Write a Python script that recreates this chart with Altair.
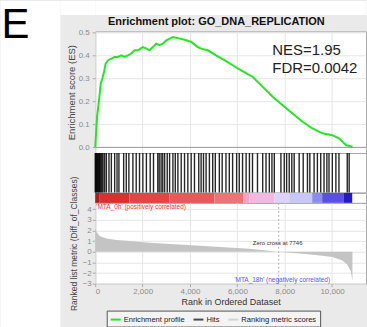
import altair as alt
import pandas as pd

# Running enrichment score along the ranked list
es_rank = [0, 77, 160, 230, 300, 370, 440, 540, 680, 820, 960, 1100, 1240, 1380,
           1520, 1660, 1800, 2010, 2160, 2290, 2430, 2570, 2710, 2850, 3000, 3140,
           3280, 3490, 3770, 4050, 4330, 4470, 4750, 5100, 5450, 5800, 6160, 6650,
           7070, 7490, 7910, 8330, 8750, 9170, 9590, 10010, 10290, 10580, 10860]
es_score = [0.0, 0.133, 0.205, 0.277, 0.299, 0.328, 0.364, 0.379, 0.386, 0.393,
            0.393, 0.400, 0.393, 0.400, 0.408, 0.422, 0.422, 0.436, 0.429, 0.422,
            0.436, 0.451, 0.444, 0.451, 0.465, 0.473, 0.480, 0.475, 0.468, 0.458,
            0.436, 0.429, 0.422, 0.400, 0.379, 0.357, 0.335, 0.306, 0.263, 0.220,
            0.183, 0.147, 0.111, 0.082, 0.061, 0.053, 0.039, 0.010, 0.003]

# Positions of the gene-set members in the ranked list
hit_rank = [0, 30, 60, 90, 120, 150, 180, 210, 250, 290, 330, 400, 470, 580, 680,
            820, 920, 1000, 1200, 1310, 1420, 1590, 1730, 1870, 2010, 2160, 2320,
            2460, 2640, 2700, 2780, 2850, 2930, 3040, 3140, 3280, 3380, 3490, 3630,
            3770, 3910, 4050, 4190, 4370, 4470, 4570, 4680, 4820, 4960, 5070, 5240,
            5360, 5520, 5660, 5800, 5970, 6080, 6220, 6370, 6510, 6640, 6850, 7070,
            7210, 7350, 7460, 7560, 7840, 7980, 8080, 8190, 8300, 8400, 8610, 8780,
            8960, 9060, 9240, 9380, 9520, 9660, 9780, 9870, 10010, 10160, 10290,
            10640, 10720]

# Ranked list metric (Diff_of_Classes)
metric_rank = [0, 30, 70, 190, 470, 890, 1590, 2300, 3700, 5100, 6500, 7746,
               8610, 9310, 10010, 10430, 10640, 10790, 10860]
metric_value = [2.26, 2.0, 1.79, 1.48, 1.26, 1.10, 0.98, 0.85, 0.66, 0.47, 0.28,
                0.0, -0.15, -0.31, -0.50, -0.81, -1.19, -1.82, -2.76]

# Heat bar below the hits (positive class red -> negative class blue)
bar_start = [0, 190, 1450, 3140, 5030, 6250, 6510, 7560, 8190, 9160, 9580, 10500]
bar_end = [190, 1450, 3140, 5030, 6250, 6510, 7560, 8190, 9160, 9580, 10500, 10850]
bar_color = ["#b41818", "#da3030", "#e44444", "#ec5858", "#f07272", "#f4a6c8",
             "#f2b8e2", "#dcd4f6", "#c8c8f8", "#8c8cf0", "#5a50e6", "#2418c8"]

legend_labels = ["Enrichment profile", "Hits", "Ranking metric scores"]
legend_colors = ["#22e822", "#4a4a4a", "#d4d4d4"]

x_ticks = [0, 2000, 4000, 6000, 8000, 10000]
es_ticks = [0.0, 0.1, 0.2, 0.3, 0.4, 0.5]
metric_ticks = [-3, -2, -1, 0, 1, 2, 3, 4]

zero_cross = 7746
nes_text = "NES=1.95"
fdr_text = "FDR=0.0042"
title_text = "Enrichment plot: GO_DNA_REPLICATION"

X_MAX = 11432
PLOT_W = 271.5
LEFT_COL = 60
GUTTER = 35.5
FONT = "Liberation Sans"
GRID = "#e6e6e6"
LABEL = "#8a8a8a"
TITLE = "#444444"
PANEL_BG = "#eaeaea"

one = pd.DataFrame({"k": [0]})
xs = alt.Scale(domain=[0, X_MAX], nice=False, zero=False)
es_y = alt.Scale(domain=[-0.0247, 0.5043], nice=False, zero=False)
m_y = alt.Scale(domain=[-3, 4.6], nice=False, zero=False)
comma = "format(datum.value, ',')"

# axes shared by every layer of a panel
x_grid_axis = alt.Axis(values=x_ticks, labels=False, ticks=False, domain=False,
                       title=None, grid=True, gridColor=GRID)
es_axis = alt.Axis(values=es_ticks, labelExpr="format(datum.value, '.1f')",
                   title="Enrichment score (ES)",
                   titleFontSize=9.5, titleFontWeight="normal", titleColor=TITLE,
                   titlePadding=2, labelFontSize=8, labelColor=LABEL,
                   labelPadding=3, tickSize=3, tickColor="#aaaaaa",
                   domain=False, grid=True, gridColor=GRID)
rank_axis = alt.Axis(values=x_ticks, labelExpr=comma, title="Rank in Ordered Dataset",
                     titleFontSize=9, titleFontWeight="normal", titleColor="#333333",
                     titlePadding=2, labelFontSize=8, labelColor=LABEL,
                     labelPadding=1, tickSize=3, tickColor="#aaaaaa",
                     domain=False, grid=True, gridColor=GRID)
metric_axis = alt.Axis(values=metric_ticks, labelExpr="format(datum.value, 'd')",
                       title="Ranked list metric (Diff_of_Classes)",
                       titleFontSize=8.5, titleFontWeight="normal", titleColor=TITLE,
                       titlePadding=3.4, labelFontSize=8, labelColor=LABEL,
                       labelPadding=1, tickSize=3, tickColor="#aaaaaa",
                       domain=False, grid=True, gridColor=GRID)

# --- enrichment score panel ---
es_df = pd.DataFrame({"rank": es_rank, "es": es_score, "series": legend_labels[0]})

es_line = alt.Chart(es_df).mark_line(strokeWidth=2).encode(
    x=alt.X("rank:Q", scale=xs, axis=x_grid_axis),
    y=alt.Y("es:Q", scale=es_y, axis=es_axis),
    color=alt.Color("series:N",
                    scale=alt.Scale(domain=legend_labels, range=legend_colors),
                    legend=alt.Legend(orient="none", legendX=11.5, legendY=280,
                                      direction="horizontal", title=None,
                                      symbolType="stroke", symbolSize=100,
                                      symbolStrokeWidth=2, labelFontSize=7.6,
                                      labelColor="#222222", labelOffset=2,
                                      columnPadding=4, padding=3,
                                      strokeColor="#555555", fillColor="#f4f4f4")),
)
es_zero = alt.Chart(one).mark_rule(color="#9a9a9a", strokeWidth=1).encode(
    y=alt.YDatum(0, scale=es_y, axis=es_axis))
nes = alt.Chart(one).mark_text(text=nes_text, font=FONT, fontSize=15, align="left",
                               baseline="middle", color="#222222").encode(
    x=alt.XDatum(7474, scale=xs, axis=x_grid_axis),
    y=alt.YDatum(0.422, scale=es_y, axis=es_axis))
fdr = alt.Chart(one).mark_text(text=fdr_text, font=FONT, fontSize=15, align="left",
                               baseline="middle", color="#222222").encode(
    x=alt.XDatum(7474, scale=xs, axis=x_grid_axis),
    y=alt.YDatum(0.344, scale=es_y, axis=es_axis))
p1 = alt.layer(es_line, es_zero, nes, fdr).properties(
    width=PLOT_W, height=122,
    title=alt.Title(title_text, fontSize=11, fontWeight="bold", anchor="middle",
                    frame="bounds", offset=1, color="#111111", font=FONT))

# --- hits panel ---
p2 = alt.Chart(pd.DataFrame({"rank": hit_rank})).mark_rule(
    color="black", strokeWidth=1.4, opacity=0.85).encode(
    x=alt.X("rank:Q", scale=xs, axis=None)).properties(width=PLOT_W, height=39.5)

# --- heat bar ---
p3 = alt.Chart(pd.DataFrame({"start": bar_start, "end": bar_end, "color": bar_color})
               ).mark_rect().encode(
    x=alt.X("start:Q", scale=xs, axis=None), x2="end:Q",
    color=alt.Color("color:N", scale=None)).properties(width=PLOT_W, height=10)

# --- ranked list metric panel ---
metric = alt.Chart(pd.DataFrame({"rank": metric_rank, "value": metric_value})
                   ).mark_area(color="#c4c4c4").encode(
    x=alt.X("rank:Q", scale=xs, axis=rank_axis),
    y=alt.Y("value:Q", scale=m_y, axis=metric_axis),
    y2=alt.datum(0),
)
zero_rule = alt.Chart(one).mark_rule(color="#b0b0b0", strokeDash=[2, 2]).encode(
    x=alt.XDatum(zero_cross, scale=xs, axis=rank_axis))


def note(text, x, y, color, size, align="center"):
    return alt.Chart(one).mark_text(text=text, font=FONT, fontSize=size, color=color,
                                    align=align).encode(
        x=alt.XDatum(x, scale=xs, axis=rank_axis),
        y=alt.YDatum(y, scale=m_y, axis=metric_axis))


zero_label = note(f"Zero cross at {zero_cross}", 7700, 0.8, "#333333", 6)
pos_label = note("'MTA_0h' (positively correlated)", 40, 4.25, "#e03a3a", 6.5, "left")
neg_label = note("'MTA_18h' (negatively correlated)", 9916, -2.62, "#5656ee", 6.5, "right")
p4 = alt.layer(metric, zero_rule, zero_label, pos_label, neg_label).properties(
    width=PLOT_W, height=81)

# white top margin; its axis line (white, as wide as the gutter) whitens the gutter too
top_margin = alt.Chart(one).mark_text(text="", align="left", baseline="top").encode(
    x=alt.value(0),
    y=alt.YDatum(0, axis=alt.Axis(domain=True, domainColor="white",
                                  domainWidth=GUTTER, offset=GUTTER / 2,
                                  labels=False, ticks=False, grid=False, title=None)),
).properties(width=PLOT_W, height=14,
             view=alt.ViewBackground(fill="white", strokeOpacity=0))

# grey band that holds the panel title
title_band = alt.Chart(one).mark_text(text="", align="left", baseline="top").encode(
    x=alt.value(0), y=alt.value(0)).properties(
    width=PLOT_W, height=17, view=alt.ViewBackground(fill=PANEL_BG, strokeOpacity=0))

main = alt.vconcat(
    top_margin, title_band, p1, p2, p3, p4, spacing=0, bounds="flush",
).resolve_scale(color="independent", y="independent").resolve_legend(
    color="independent")

letter = alt.Chart(one).mark_text(text="E", font=FONT, fontSize=42, align="left",
                                  baseline="alphabetic", color="black").encode(
    x=alt.value(1.6), y=alt.value(38)).properties(
    width=LEFT_COL, height=327, view=alt.ViewBackground(strokeOpacity=0))

chart = alt.hconcat(letter, main, spacing=GUTTER, bounds="flush").properties(
    padding=0, background=PANEL_BG
).configure(font=FONT).configure_view(fill="white", stroke="#a8a8a8")

chart.save("out.html", embed_options={"renderer": "svg", "actions": False})
